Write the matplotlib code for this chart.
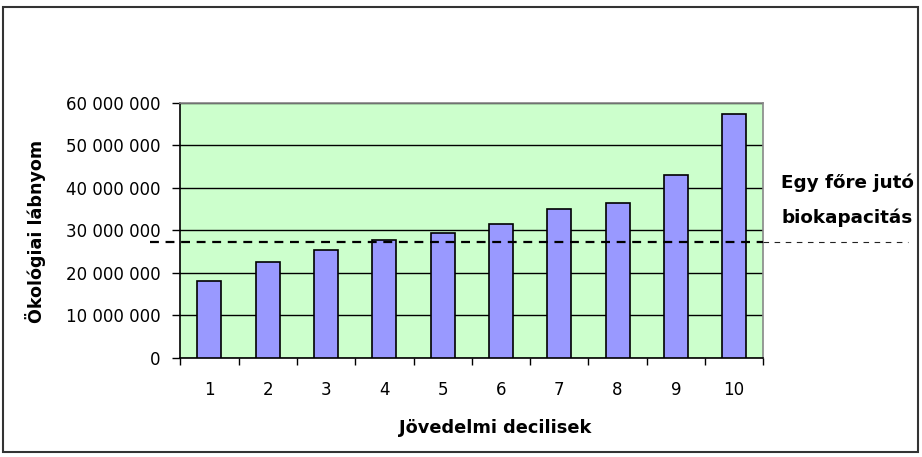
import matplotlib
matplotlib.use("Agg")
import matplotlib.pyplot as plt
import matplotlib.transforms as mtransforms
from matplotlib.patches import Rectangle
from matplotlib.ticker import FuncFormatter

plt.rcParams['font.family'] = ['DejaVu Sans']

deciles = [1, 2, 3, 4, 5, 6, 7, 8, 9, 10]
footprint = [18.1e6, 22.6e6, 25.3e6, 27.8e6, 29.3e6, 31.5e6, 34.9e6, 36.3e6, 43.0e6, 57.3e6]
biocapacity = 27.2e6
yticks = [0, 10e6, 20e6, 30e6, 40e6, 50e6, 60e6]

W, H = 922, 457
fig = plt.figure(figsize=(W / 100, H / 100), dpi=100)
fig.patch.set_facecolor('white')

# outer chart border
fig.patches.append(Rectangle((3 / W, 1 - 452 / H), 915 / W, 445 / H, transform=fig.transFigure,
                             fill=False, edgecolor='#333333', linewidth=1.5))

ax = fig.add_axes([180.3 / W, 1 - 357.7 / H, 583 / W, 255 / H])
ax.set_facecolor('#CCFFCC')
ax.bar(deciles, footprint, width=0.41, color='#9999FF', edgecolor='black', linewidth=1.2, zorder=3)

ax.set_xlim(0.5, 10.5)
ax.set_ylim(0, 60e6)
ax.set_yticks(yticks)
ax.yaxis.set_major_formatter(FuncFormatter(lambda v, p: f"{int(v):,}".replace(",", " ")))
ax.grid(axis='y', color='black', linewidth=1, zorder=1)
ax.set_axisbelow(True)

ax.set_xticks(deciles)
ax.set_xticklabels([str(d) for d in deciles])
ax.set_xticks([d - 0.5 for d in deciles] + [10.5], minor=True)
ax.tick_params(axis='x', which='major', length=0, pad=17, labelsize=12)
ax.tick_params(axis='x', which='minor', length=5, width=1, direction='out')
ax.tick_params(axis='y', length=6, width=1, direction='out', pad=8, labelsize=12)

for s in ['left', 'bottom']:
    ax.spines[s].set_color('black')
    ax.spines[s].set_linewidth(1.2)
for s in ['top', 'right']:
    ax.spines[s].set_color('#888888')
    ax.spines[s].set_linewidth(1.2)

# biocapacity dashed line
tr = mtransforms.blended_transform_factory(fig.transFigure, ax.transData)
ax.plot([150 / W, 763 / W], [biocapacity, biocapacity], transform=tr, color='black',
        linestyle=(0, (4, 3)), linewidth=1.6, clip_on=False, zorder=4)
ax.plot([763 / W, 908 / W], [biocapacity, biocapacity], transform=tr, color='#222222',
        linestyle=(0, (5, 5)), linewidth=0.8, clip_on=False, zorder=4)

fig.text(847 / W, 1 - 188 / H, "Egy főre jutó", ha='center', va='baseline',
         fontsize=13.2, fontweight='bold')
fig.text(847 / W, 1 - 223 / H, "biokapacitás", ha='center', va='baseline',
         fontsize=13.2, fontweight='bold')

fig.text(36 / W, 1 - 231 / H, "Ökológiai lábnyom", rotation=90, ha='center', va='center',
         fontsize=12.6, fontweight='bold')
fig.text(495 / W, 1 - 433 / H, "Jövedelmi decilisek", ha='center', va='baseline',
         fontsize=12.8, fontweight='bold')

fig.savefig('out.png', dpi=100)
